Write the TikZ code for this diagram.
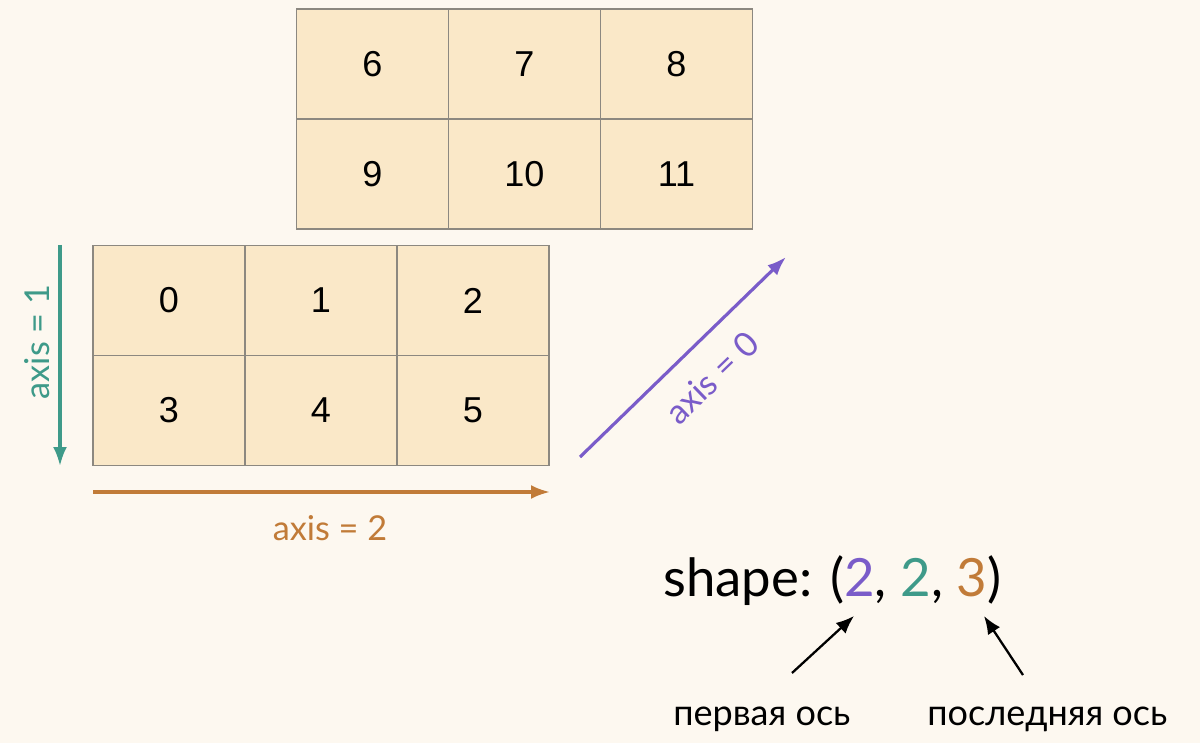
\documentclass[tikz,border=0pt]{standalone}
\usepackage{fontspec}
\setmainfont{Lato}
\newfontfamily\cellfont{Liberation Sans}
\usetikzlibrary{positioning,arrows.meta}

\definecolor{bgcol}{HTML}{FDF8F0}
\definecolor{cellfill}{HTML}{FAE8C8}
\definecolor{gridgray}{HTML}{8C8880}
\definecolor{axteal}{HTML}{3E9A89}
\definecolor{axorange}{HTML}{C17B38}
\definecolor{axpurple}{HTML}{7A5CC9}

\begin{document}
\begin{tikzpicture}[x=0.02cm,y=-0.02cm,node distance=2.2cm and 3.04cm,on grid,
    cell/.style={draw=gridgray,fill=cellfill,line width=0.8pt,minimum width=3.04cm,
      minimum height=2.2cm,inner sep=0pt,font=\cellfont\fontsize{20.5}{24}\selectfont},
    axarrow/.style={line width=1.8pt,-{Latex[length=3.8mm,width=2.8mm]}},
    ptr/.style={line width=1.3pt,-{Latex[length=3.6mm,width=2.9mm]}},
    axlabel/.style={font=\fontsize{19.5}{23}\selectfont,inner sep=0pt},
    note/.style={font=\fontsize{20.5}{24}\selectfont,inner sep=0pt,anchor=base west}]
   \fill[bgcol] (0,0) rectangle (1200,743);
   \useasboundingbox (0,0) rectangle (1200,743);

   % back layer
   \node[cell] (c6) at (372.5,64) {6};
   \node[cell] (c7) [right=of c6] {7};
   \node[cell] (c8) [right=of c7] {8};
   \node[cell] (c9) [below=of c6] {9};
   \node[cell] (c10) [right=of c9] {10};
   \node[cell] (c11) [right=of c10] {11};

   % front layer
   \node[cell] (c0) at (169,300.5) {0};
   \node[cell] (c1) [right=of c0] {1};
   \node[cell] (c2) [right=of c1] {2};
   \node[cell] (c3) [below=of c0] {3};
   \node[cell] (c4) [right=of c3] {4};
   \node[cell] (c5) [right=of c4] {5};

   % axes
   \coordinate (a1s) at (60,245);
   \coordinate (a1e) at (60,466);
   \coordinate (a2s) at (93,492);
   \coordinate (a2e) at (550,492);
   \coordinate (a0s) at (580,457);
   \coordinate (a0e) at (786,257);
   \draw[axarrow,axteal] (a1s) -- (a1e);
   \draw[axarrow,axorange] (a2s) -- (a2e);
   \draw[axarrow,axpurple] (a0s) -- (a0e);
   \node[axlabel,axteal,rotate=90] (l1) at (37,342) {axis = 1};
   \node[axlabel,axorange] (l2) at (330,528) {axis = 2};
   \node[axlabel,axpurple,rotate=44] (l0) at (712,378) {axis = 0};

   % shape tuple
   \node[font=\fontsize{30}{36}\selectfont,inner sep=0pt,anchor=base west] (shp) at (663,596)
     {shape: (\textcolor{axpurple}{2}, \textcolor{axteal}{2}, \textcolor{axorange}{3})};
   \node[note] (first) at (673,725) {первая ось};
   \node[note] (last) at (927,725) {последняя ось};
   \coordinate (p1s) at (792,673);
   \coordinate (p1e) at (854,616);
   \coordinate (p2s) at (1023,675);
   \coordinate (p2e) at (984,616);
   \draw[ptr] (p1s) -- (p1e);
   \draw[ptr] (p2s) -- (p2e);
\end{tikzpicture}
\end{document}
